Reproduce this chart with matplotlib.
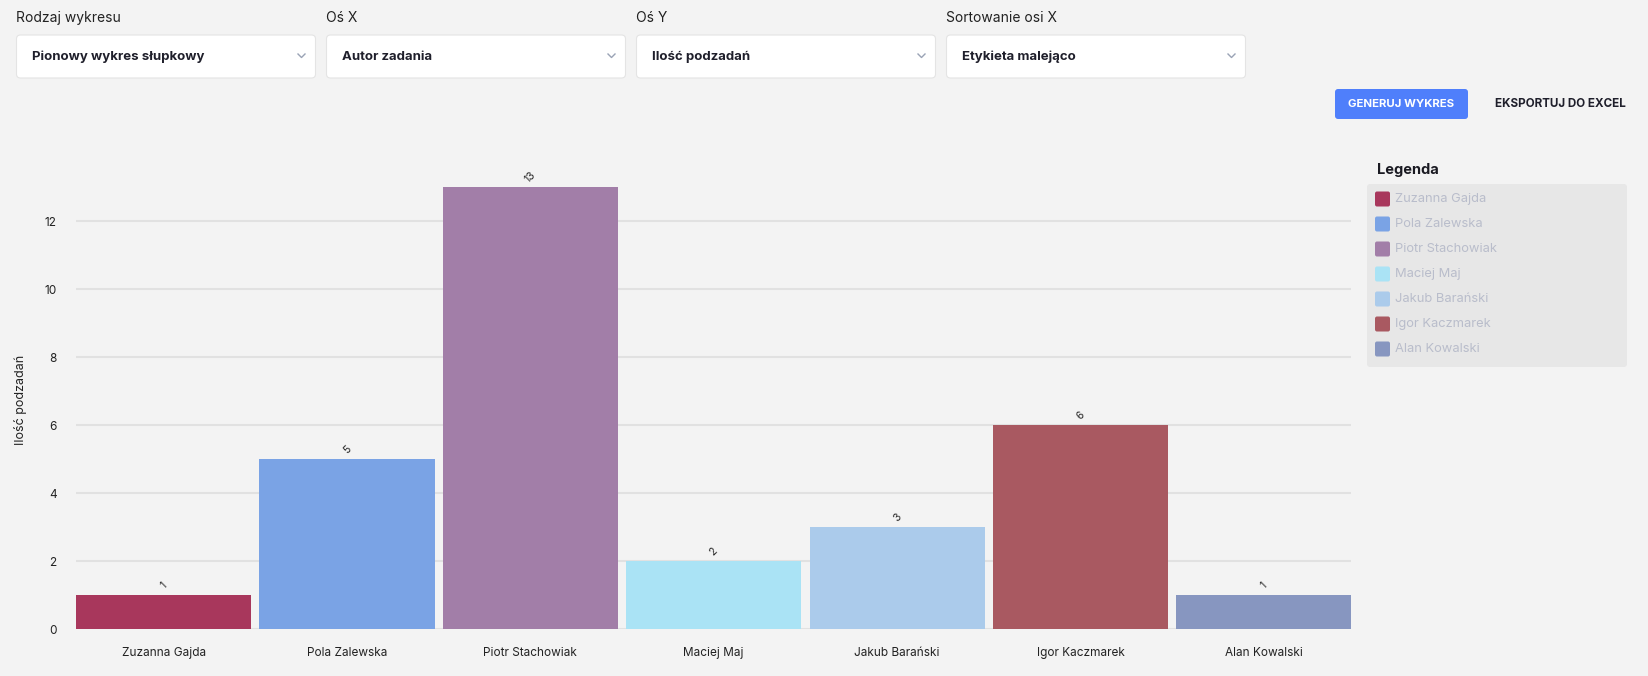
import matplotlib
matplotlib.use('Agg')
import matplotlib.pyplot as plt
from matplotlib.patches import FancyBboxPatch
from matplotlib.lines import Line2D
from matplotlib.transforms import IdentityTransform

# data
authors = ['Zuzanna Gajda', 'Pola Zalewska', 'Piotr Stachowiak', 'Maciej Maj',
           'Jakub Barański', 'Igor Kaczmarek', 'Alan Kowalski']
counts = [1, 5, 13, 2, 3, 6, 1]
bar_colors = ['#a8375c', '#7aa3e5', '#a27ea8', '#aae3f5',
              '#abcbeb', '#a95961', '#8796c0']
y_ticks = [0, 2, 4, 6, 8, 10, 12]

control_labels = ['Rodzaj wykresu', 'Oś X', 'Oś Y', 'Sortowanie osi X']
control_values = ['Pionowy wykres słupkowy', 'Autor zadania', 'Ilość podzadań', 'Etykieta malejąco']

W, H = 1649, 676
BG = '#f3f3f3'
UI_FONT = ['Inter', 'DejaVu Sans']

plt.rcParams['font.family'] = UI_FONT

fig = plt.figure(figsize=(W / 100, H / 100), dpi=100, facecolor=BG)


def px_box(x, y, w, h, fc, r=4, ec='none', lw=0):
    """rounded box in pixel coords, y measured from the top"""
    p = FancyBboxPatch((x, H - y - h), w, h,
                       boxstyle=f"round,pad=0,rounding_size={r}",
                       fc=fc, ec=ec, lw=lw, transform=IdentityTransform())
    fig.add_artist(p)


def px_text(x, y, s, **kw):
    fig.text(x / W, 1 - y / H, s, **kw)


# --- top controls ---
for i, (lab, val) in enumerate(zip(control_labels, control_values)):
    bx = 16.5 + 310 * i
    px_text(bx, 18, lab, fontsize=10, color='#222222', va='center', ha='left')
    px_box(bx, 35, 299, 43, '#ffffff', r=4, ec='#e4e4e4', lw=0.8)
    px_text(bx + 16, 57, val, fontsize=9.5, fontweight='bold', color='#1f1f2b',
            va='center', ha='left')
    cx, cy = bx + 285, H - 56
    fig.add_artist(Line2D([cx - 3.5, cx, cx + 3.5], [cy + 2, cy - 1.5, cy + 2],
                          color='#9aa3b5', lw=1, transform=IdentityTransform()))

px_box(1335, 89, 133, 30, '#4f7ffb', r=3)
px_text(1401.5, 104, 'GENERUJ WYKRES', fontsize=8.2, fontweight='bold',
        color='white', ha='center', va='center')
px_text(1560, 104, 'EKSPORTUJ DO EXCEL', fontsize=8.4, fontweight='bold',
        color='#1f1f2b', ha='center', va='center')

# --- chart ---
ax = fig.add_axes([76 / W, (H - 629) / H, (1351.5 - 76) / W, (629 - 153) / H])
ax.set_facecolor(BG)
x = range(len(authors))
bar_w = 0.955
ax.bar(x, counts, width=bar_w, color=bar_colors, zorder=3)
for xi, c in zip(x, counts):
    ax.annotate(str(c), (xi, c), xytext=(0, 7), textcoords='offset points',
                ha='center', va='center', rotation=45, fontsize=7.5, color='#222222')

ax.set_xlim(-bar_w / 2, len(authors) - 1 + bar_w / 2)
ax.set_ylim(0, 14)
ax.set_yticks(y_ticks)
ax.set_xticks(list(x))
ax.set_xticklabels(authors, fontsize=8.5, color='#222222')
ax.tick_params(axis='y', labelsize=8.5, colors='#222222', length=0, pad=14)
ax.tick_params(axis='x', length=0, pad=13)
ax.yaxis.grid(True, color='#e1e1e1', lw=1.5, zorder=0)
for s in ax.spines.values():
    s.set_visible(False)

px_text(21, 400, 'Ilość podzadań', fontsize=9, color='#222222', rotation=90,
        ha='center', va='center')

# --- legend panel ---
px_text(1377, 170, 'Legenda', fontsize=10.5, fontweight='bold', color='#1a1a22',
        ha='left', va='center')
px_box(1367, 184, 260, 183, '#e7e7e7', r=3)
for i, (name, col) in enumerate(zip(authors, bar_colors)):
    ry = 199 + 25 * i
    px_box(1375, ry - 7.5, 15, 15, col, r=2)
    px_text(1395, ry, name, fontsize=9.3, color='#b9bdcb', ha='left', va='center')

fig.savefig('out.png', dpi=100, facecolor=BG)
